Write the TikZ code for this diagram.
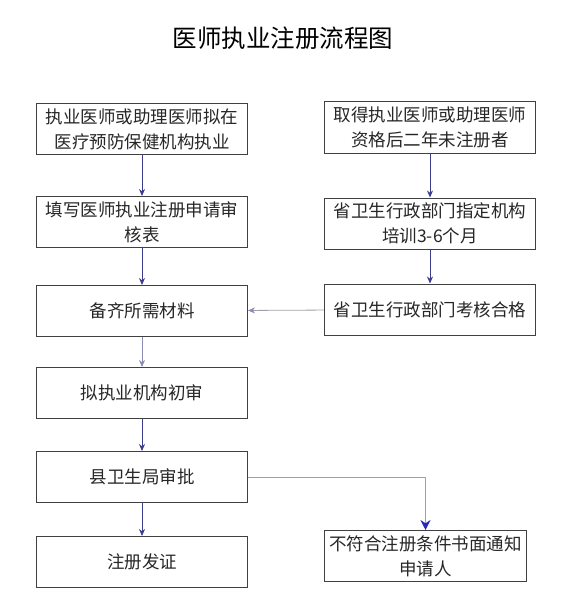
\documentclass[tikz,border=0pt]{standalone}
\usepackage{fontspec}
\setmainfont{Noto Sans CJK SC}
\usepackage{xcolor}
\usetikzlibrary{arrows.meta, positioning}

\definecolor{arrownavy}{HTML}{3C3C8C}
\definecolor{arrowpale}{HTML}{8A8AB4}
\definecolor{linegrey}{HTML}{A0A0A8}
\definecolor{headblue}{HTML}{2828C0}

\begin{document}
\begin{tikzpicture}[
    x=1pt, y=1pt,
    block/.style={draw=black!75, line width=0.8pt, rectangle, minimum height=51.2pt, minimum width=211.2pt, inner sep=0pt, align=center, text=black!85, font=\fontsize{17.5}{25}\selectfont},
    arrow/.style={line width=0.8pt, draw=arrownavy, -{Stealth[length=7pt,width=6pt]}},
    softarrow/.style={line width=0.8pt, draw=arrowpale, -{Stealth[length=7pt,width=6pt]}},
    greyarrow/.style={line width=0.8pt, draw=linegrey, -{Stealth[length=7pt,width=6pt,color=arrowpale]}},
    bigarrow/.style={line width=0.8pt, draw=linegrey, -{Stealth[length=10pt,width=10pt,color=headblue]}}
]
\useasboundingbox (0,0) rectangle (567,-599);

% Title
\node (title) at (283,-38) {\fontsize{24.5}{26}\selectfont 医师执业注册流程图};

% Left column
\node (apply) [block] at (142,-129) {执业医师或助理医师拟在\\医疗预防保健机构执业};
\node (form) [block, below=41pt of apply] {填写医师执业注册申请审\\核表};
\node (docs) [block, below=37pt of form] {备齐所需材料};
\node (firstcheck) [block, below=30pt of docs] {拟执业机构初审};
\node (county) [block, below=32pt of firstcheck] {县卫生局审批};
\node (issue) [block, below=33pt of county] {注册发证};

% Right column
\node (lapsed) [block] at (430,-127.5) {取得执业医师或助理医师\\资格后二年未注册者};
\node (training) [block, below=44pt of lapsed] {省卫生行政部门指定机构\\培训3-6个月};
\node (exam) [block, below=34pt of training] {省卫生行政部门考核合格};
\node (reject) [block, minimum width=202.2pt] at (425.5,-556) {不符合注册条件书面通知\\申请人};

% Links
\draw[arrow] (apply) -- (form);
\draw[arrow] (form) -- (docs);
\draw[softarrow] (docs) -- (firstcheck);
\draw[arrow] (firstcheck) -- (county);
\draw[arrow] (county) -- (issue);
\draw[arrow] (lapsed) -- (training);
\draw[arrow] (training) -- (exam);
\draw[greyarrow] (exam) -- (docs);
\draw[bigarrow] (county.east) -| (reject.north);

\end{tikzpicture}
\end{document}
